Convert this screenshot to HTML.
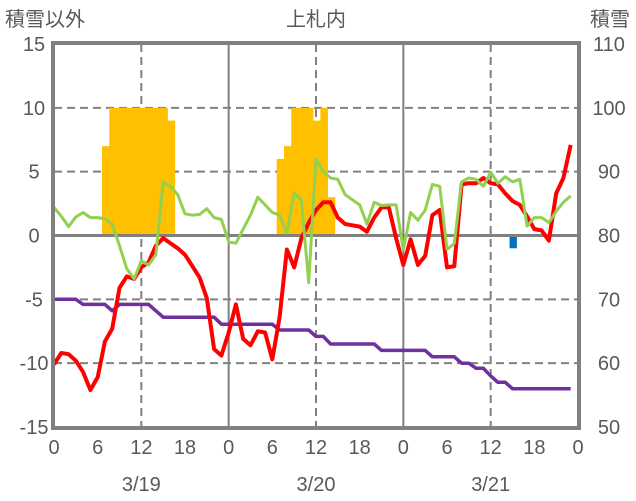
<!DOCTYPE html>
<html><head><meta charset="utf-8"><style>
body{margin:0;background:#fff;}
svg{display:block;font-family:"Liberation Sans","Noto Sans CJK JP",sans-serif;}
</style></head><body>
<svg id="chart" width="636" height="501">
<text x="5" y="26" font-size="20" fill="#595959">積雪以外</text>
<text x="316" y="26" font-size="20" fill="#595959" text-anchor="middle">上札内</text>
<text x="630" y="26" font-size="20" fill="#595959" text-anchor="end">積雪</text>
<g id="grid"></g><g id="bars"></g><g id="lines"></g><g id="frame"></g><g id="labels"></g>
</svg>
<script>
const leftTicks=[15,10,5,0,-5,-10,-15];
const rightTicks=[110,100,90,80,70,60,50];
const hourTicks=[0,6,12,18,0,6,12,18,0,6,12,18,0];
const dateLabels=["3/19","3/20","3/21"];
const snowHours=[7,8,9,10,11,12,13,14,15,16,31,32,33,34,35,36,37,38];
const snowDepth=[94,100,100,100,100,100,100,100,100,98,92,94,100,100,100,98,100,86];
const snowfallHours=[63];
const snowfall=[78];
const temp=[-10.1,-9.2,-9.3,-9.8,-10.7,-12.1,-11.1,-8.3,-7.3,-4.1,-3.2,-3.4,-2.5,-2.1,-0.8,-0.2,-0.6,-1.0,-1.5,-2.4,-3.3,-4.9,-8.9,-9.4,
-7.6,-5.4,-8.1,-8.6,-7.5,-7.6,-9.7,-6.4,-1.1,-2.5,-0.2,1.0,2.0,2.6,2.6,1.4,0.9,0.8,0.7,0.3,1.4,2.2,2.2,-0.2,
-2.3,-0.3,-2.3,-1.6,1.6,2.0,-2.5,-2.4,4.0,4.1,4.1,4.5,4.1,4.0,3.3,2.7,2.4,1.5,0.5,0.4,-0.4,3.3,4.5,7.1];
const other=[2.2,1.5,0.7,1.45,1.8,1.4,1.4,1.3,0.9,-0.8,-2.6,-3.4,-2.0,-2.3,-1.5,4.2,3.85,3.2,1.7,1.6,1.65,2.1,1.4,1.25,
-0.5,-0.6,0.5,1.6,3.0,2.4,1.8,1.6,0.2,3.3,2.8,-3.7,6.0,5.0,4.5,4.4,3.2,2.8,2.4,0.9,2.6,2.35,2.4,2.4,
-1.1,1.8,1.2,2.0,4.0,3.85,-1.1,-0.63,4.2,4.5,4.4,3.85,4.95,4.1,4.6,4.2,4.4,0.73,1.4,1.4,1.0,1.9,2.6,3.1];
const depthLine=[-5,-5,-5,-5,-5.4,-5.4,-5.4,-5.4,-5.9,-5.4,-5.4,-5.4,-5.4,-5.4,-5.9,-6.4,-6.4,-6.4,-6.4,-6.4,-6.4,-6.4,-6.4,
-6.95,-6.95,-6.95,-6.95,-6.95,-6.95,-6.95,-6.95,-7.4,-7.4,-7.4,-7.4,-7.4,-7.9,-7.9,-8.5,-8.5,-8.5,-8.5,-8.5,-8.5,-8.5,
-9,-9,-9,-9,-9,-9,-9,-9.5,-9.5,-9.5,-9.5,-10,-10,-10.4,-10.4,-11,-11.5,-11.5,-12,-12,-12,-12,-12,-12,-12,-12,-12];
const X0=54,X1=578,Y0=44,Y1=427;
const x=h=>X0+(X1-X0)*h/72;
const yL=v=>Y1-(v+15)/30*(Y1-Y0);
const yR=v=>Y1-(v-50)/60*(Y1-Y0);
const NS="http://www.w3.org/2000/svg";
function mk(tag,attrs,parent){const e=document.createElementNS(NS,tag);for(const k in attrs)e.setAttribute(k,attrs[k]);document.getElementById(parent).appendChild(e);return e;}
[10,5,-5,-10].forEach(v=>{
 const e=mk('line',{x1:X0,x2:X1,y1:yL(v),y2:yL(v),stroke:'#808080','stroke-width':2,'stroke-dasharray':'8,5'},'grid');
 
 
});
[12,36,60].forEach(h=>{
 const e=mk('line',{x1:x(h),x2:x(h),y1:Y0,y2:Y1,stroke:'#808080','stroke-width':2,'stroke-dasharray':'8,5'},'grid');
 
 
});
[24,48].forEach(h=>{
 const e=mk('line',{x1:x(h),x2:x(h),y1:Y0,y2:Y1,stroke:'#808080','stroke-width':2},'grid');
 
 
});
const bw=(X1-X0)/72;
snowHours.forEach((h,i)=>{
 const top=yR(snowDepth[i]),base=yR(80);
 const e=mk('rect',{x:x(h-0.4),y:top,width:bw+0.3,height:base-top,fill:'#FFC000'},'bars');
 
 
});
snowfallHours.forEach((h,i)=>{
 const base=yR(80),b=yR(snowfall[i]);
 const e=mk('rect',{x:x(h-0.4),y:base,width:bw,height:b-base,fill:'#0070C0'},'bars');
 
 
});
const zl=document.createElementNS(NS,'line');
zl.setAttribute('x1',X0);zl.setAttribute('x2',X1);zl.setAttribute('y1',yL(0));zl.setAttribute('y2',yL(0));
zl.setAttribute('stroke','#808080');zl.setAttribute('stroke-width',3);


document.getElementById('bars').after(zl);
function line(data,color,w,name){
 const d=data.map((v,i)=>(i?'L':'M')+x(i).toFixed(1)+','+yL(v).toFixed(1)).join('');
 const e=mk('path',{d:d,fill:'none',stroke:color,'stroke-width':w,'stroke-linejoin':'round'},'lines');
 
 
}
line(depthLine,'#7030A0',3.5,'purple-series-line');
line(temp,'#FF0000',4,'temperature-line');
line(other,'#92D050',3,'green-series-line');
const fr=mk('rect',{x:X0-1,y:Y0-1,width:X1-X0+2,height:Y1-Y0+2,fill:'none',stroke:'#808080','stroke-width':4},'frame');


leftTicks.forEach(v=>{
 const t=mk('text',{x:34,y:yL(v)+7,'font-size':20,fill:'#595959','text-anchor':'middle'},'labels');t.textContent=v;
 
 
});
rightTicks.forEach(v=>{
 const t=mk('text',{x:609,y:yR(v)+7,'font-size':20,fill:'#595959','text-anchor':'middle'},'labels');t.textContent=v;
 
 
});
hourTicks.forEach((v,i)=>{
 const t=mk('text',{x:x(i*6),y:454,'font-size':20,fill:'#595959','text-anchor':'middle'},'labels');t.textContent=v;
 
 
});
dateLabels.forEach((v,i)=>{
 const t=mk('text',{x:x(12+24*i),y:491,'font-size':20,fill:'#595959','text-anchor':'middle'},'labels');t.textContent=v;
 
 
});
</script>
</body></html>
